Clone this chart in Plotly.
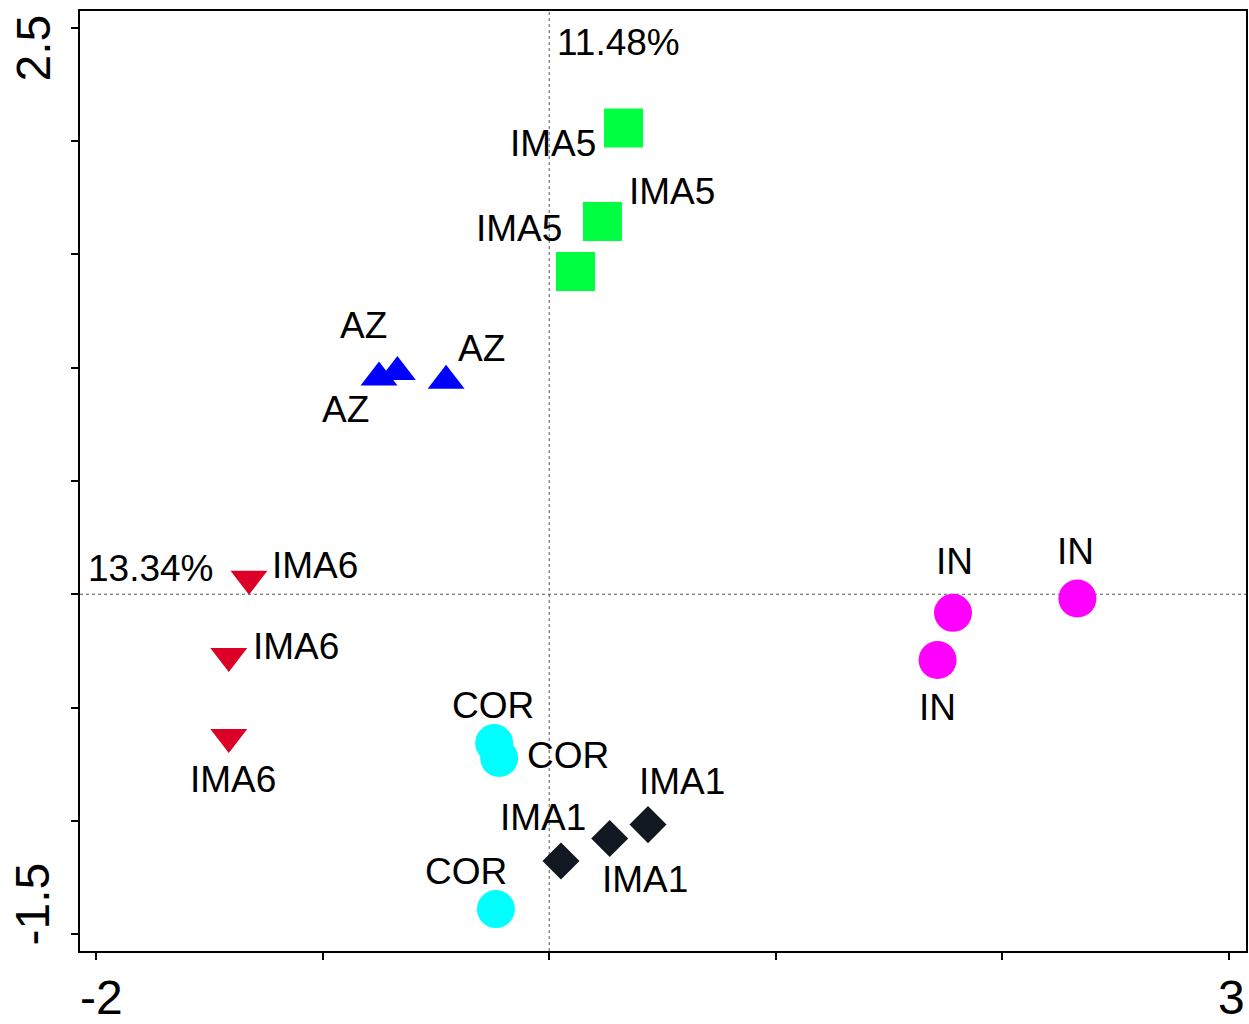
import plotly.graph_objects as go

# ---- data (ordination scores) ----
ima5_x = [0.328, 0.235, 0.116]
ima5_y = [2.058, 1.646, 1.425]
az_x = [-0.751, -0.670, -0.455]
az_y = [0.957, 0.981, 0.943]
ima6_x = [-1.325, -1.414, -1.414]
ima6_y = [0.068, -0.273, -0.630]
cor_x = [-0.243, -0.221, -0.235]
cor_y = [-0.657, -0.723, -1.390]
ima1_x = [0.052, 0.267, 0.436]
ima1_y = [-1.178, -1.078, -1.017]
in_x = [1.782, 1.714, 2.331]
in_y = [-0.082, -0.290, -0.019]

group_names = ["IMA5", "AZ", "IMA6", "COR", "IMA1", "IN"]
axis1_pct = "13.34%"
axis2_pct = "11.48%"

x_tickvals = [-2, -1, 0, 1, 2, 3]
x_label_vals = [-2, 3]
x_label_text = ["-2", "3"]
y_tickvals = [2.5, 2.0, 1.5, 1.0, 0.5, 0.0, -0.5, -1.0, -1.5]
y_label_vals = [2.5, -1.5]
y_label_text = ["2.5", "-1.5"]

# ---- styles ----
FONT = "Liberation Sans, Arial, Helvetica, sans-serif"
LABEL_SIZE = 37
TICK_SIZE = 48

groups = [
    dict(name="IMA5", x=ima5_x, y=ima5_y, symbol="square", size=39, color="#00FF41",
         offsets=[(-70.5, 15), (69.5, -30), (-56.5, -43)]),
    dict(name="AZ", x=az_x, y=az_y, symbol="triangle-up", size=32, color="#0000FF",
         offsets=[(-33.5, 32), (-34, -47), (35, -32)]),
    dict(name="IMA6", x=ima6_x, y=ima6_y, symbol="triangle-down", size=32, color="#DC0028",
         offsets=[(66, -13), (66.8, -9.3), (3.8, 43)]),
    dict(name="COR", x=cor_x, y=cor_y, symbol="circle", size=38, color="#00FFFF",
         offsets=[(-0.7, -37.7), (68.5, -3), (-30, -38)]),
    dict(name="IMA1", x=ima1_x, y=ima1_y, symbol="diamond", size=28.5, color="#121821",
         offsets=[(-18, -44), (35.3, 40.7), (34, -43.5)]),
    dict(name="IN", x=in_x, y=in_y, symbol="circle", size=38, color="#FF00FF",
         offsets=[(1.5, -51), (0.3, 47.8), (-2, -47.5)]),
]

fig = go.Figure()
annotations = []
for g in groups:
    fig.add_trace(go.Scatter(
        x=g["x"], y=g["y"], mode="markers", name=g["name"], showlegend=False,
        marker=dict(symbol=g["symbol"], size=g["size"], color=g["color"], line=dict(width=0)),
    ))
    for xi, yi, (dx, dy) in zip(g["x"], g["y"], g["offsets"]):
        annotations.append(dict(
            x=xi, y=yi, xref="x", yref="y", text=g["name"], showarrow=False,
            xshift=dx, yshift=-dy, xanchor="center", yanchor="middle",
            font=dict(family=FONT, size=LABEL_SIZE, color="black"),
        ))

# axis percentage labels
annotations.append(dict(x=0, y=0, xref="paper", yref="y", text=axis1_pct, showarrow=False,
                        xanchor="left", yanchor="middle", xshift=6, yshift=25.5,
                        font=dict(family=FONT, size=LABEL_SIZE, color="black")))
annotations.append(dict(x=0, y=1, xref="x", yref="paper", text=axis2_pct, showarrow=False,
                        xanchor="left", yanchor="middle", xshift=6, yshift=-31.7,
                        font=dict(family=FONT, size=LABEL_SIZE, color="black")))

# rotated y tick labels
y_shifts = [-20.5, 29.5]
for v, t, s in zip(y_label_vals, y_label_text, y_shifts):
    annotations.append(dict(x=0, y=v, xref="paper", yref="y", text=t, showarrow=False,
                            textangle=-90, xanchor="center", yanchor="middle",
                            xshift=-47, yshift=s,
                            font=dict(family=FONT, size=TICK_SIZE, color="black")))

# x tick labels
x_shifts = [5, 2]
for v, t, s in zip(x_label_vals, x_label_text, x_shifts):
    annotations.append(dict(x=v, y=0, xref="x", yref="paper", text=t, showarrow=False,
                            xanchor="center", yanchor="middle", xshift=s, yshift=-46,
                            font=dict(family=FONT, size=TICK_SIZE, color="black")))

shapes = [
    dict(type="line", xref="x", yref="paper", x0=0, x1=0, y0=0, y1=1,
         line=dict(color="#555555", width=1, dash="dot"), layer="below"),
    dict(type="line", xref="paper", yref="y", x0=0, x1=1, y0=0, y1=0,
         line=dict(color="#555555", width=1, dash="dot"), layer="below"),
]

fig.update_layout(
    width=1249, height=1024,
    margin=dict(l=80, r=3, t=11, b=73, autoexpand=False),
    plot_bgcolor="white", paper_bgcolor="white",
    annotations=annotations, shapes=shapes,
    xaxis=dict(range=[-2.0706, 3.075], tickvals=x_tickvals, showticklabels=False,
               automargin=False,
               showgrid=False, zeroline=False, showline=True, linecolor="black", linewidth=2,
               mirror=True, ticks="outside", ticklen=7, tickwidth=2, tickcolor="black"),
    yaxis=dict(range=[-1.575, 2.575], tickvals=y_tickvals, showticklabels=False,
               automargin=False,
               showgrid=False, zeroline=False, showline=True, linecolor="black", linewidth=2,
               mirror=True, ticks="outside", ticklen=7, tickwidth=2, tickcolor="black"),
    font=dict(family=FONT),
)

fig.write_html(
    "out.html",
    config={"displayModeBar": False},
    post_script="document.body.style.margin='0';document.body.style.padding='0';"
                "document.body.style.overflow='hidden';",
)
